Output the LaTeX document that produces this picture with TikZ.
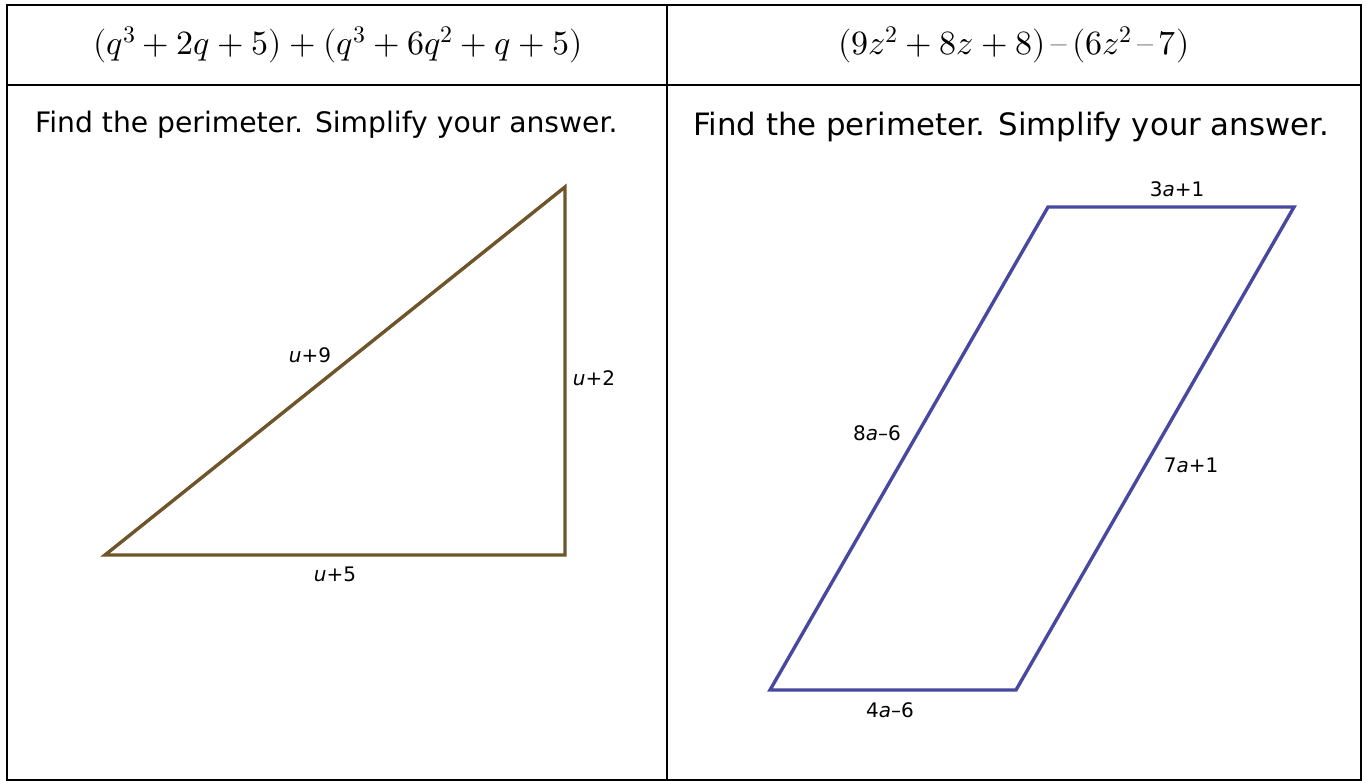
\documentclass[tikz,border=0pt]{standalone}
\usepackage{fontspec}
\usepackage{unicode-math}
\setmathfont{Latin Modern Math}
\newfontfamily\vfont{DejaVu Sans}
\definecolor{tribrown}{RGB}{110,86,42}
\definecolor{parblue}{RGB}{72,72,160}
\tikzset{
  grid line/.style={line width=2pt, black},
  header/.style={font=\fontsize{34}{40}\selectfont, inner sep=0pt},
  prompt/.style={font=\vfont\fontsize{28.2}{32}\selectfont, inner sep=0pt, anchor=west},
  side label/.style={font=\vfont\fontsize{20}{24}\selectfont, inner sep=0pt},
  tri edge/.style={draw=tribrown, line width=3.4pt, line join=miter},
  par edge/.style={draw=parblue, line width=3.4pt, line join=miter}
}
\begin{document}
\begin{tikzpicture}[x=1pt,y=-1pt]
\useasboundingbox (0,0) rectangle (1367,781);
% table
\draw[grid line] (7,5) rectangle (1361,780);
\draw[grid line] (7,85) -- (1361,85);
\draw[grid line] (667,5) -- (667,780);
% headers
\node[header] (h1) at (338,45) {$(q^3+2q+5)+(q^3+6q^2+q+5)$};
\node[header] (h2) at (1014,45) {$(9z^2+8z+8)\mbox{\,\textendash\,}(6z^2\mbox{\,\textendash\,}7)$};
% prompts
\node[prompt] (p1) at (35,125) {Find the perimeter. Simplify your answer.};
\node[prompt, font=\vfont\fontsize{30.8}{35}\selectfont] (p2) at (693,127) {Find the perimeter. Simplify your answer.};
% triangle
\coordinate (A) at (105,555);
\coordinate (B) at (565,555);
\coordinate (C) at (565,187);
\draw[tri edge] (A) -- (B) -- (C) -- cycle;
\node[side label] (l1) at (310,355) {\textit{u}+9};
\node[side label] (l2) at (594,378) {\textit{u}+2};
\node[side label] (l3) at (335,574) {\textit{u}+5};
% parallelogram
\coordinate (P) at (1048,207);
\coordinate (Q) at (1294,207);
\coordinate (R) at (1016,690);
\coordinate (S) at (770,690);
\draw[par edge] (P) -- (Q) -- (R) -- (S) -- cycle;
\node[side label] (m1) at (1177,189) {3\textit{a}+1};
\node[side label] (m2) at (877,433) {8\textit{a}\textendash6};
\node[side label] (m3) at (1191,465) {7\textit{a}+1};
\node[side label] (m4) at (890,710) {4\textit{a}\textendash6};
\end{tikzpicture}
\end{document}
